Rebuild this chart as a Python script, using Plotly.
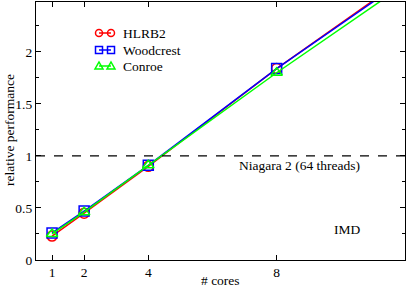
import plotly.graph_objects as go

cores = [1, 2, 4, 8, 16]
hlrb2 = [0.23, 0.45, 0.90, 1.84, 3.58]
woodcrest = [0.26, 0.47, 0.91, 1.84, 3.55]
conroe = [0.25, 0.46, 0.91, 1.80, 3.50]
series_names = ["HLRB2", "Woodcrest", "Conroe"]
niagara = 1.0

FONT = "Liberation Serif, Times New Roman, serif"
FS = 13.5
COLORS = ["#ff0000", "#0000ff", "#00ff00"]
SYMBOLS = ["circle-open", "square-open", "triangle-up-open"]

# plot-area geometry (pixels) for legend placement
L, R, T, B = 36, 405, 2, 260
def px(X):
    return (X - L) / (R - L)
def py(Y):
    return (B - Y) / (B - T)

fig = go.Figure()
for name, ys, col, sym in zip(series_names, [hlrb2, woodcrest, conroe], COLORS, SYMBOLS):
    fig.add_trace(go.Scatter(x=cores, y=ys, name=name, mode="lines+markers", showlegend=False,
                             line=dict(color=col, width=1.5),
                             marker=dict(symbol=sym, size=10, color=col, line=dict(width=1.5, color=col))))

fig.add_hline(y=niagara, line=dict(color="black", width=1.3, dash="dash"))
fig.add_annotation(x=8.7, y=niagara, yshift=-10, text="Niagara 2 (64 threads)", showarrow=False,
                   font=dict(family=FONT, size=FS, color="black"))
fig.add_annotation(x=10.2, y=0.29, text="IMD", showarrow=False,
                   font=dict(family=FONT, size=FS, color="black"))
fig.add_annotation(xref="paper", yref="paper", x=0.5, y=py(280), yanchor="middle",
                   text="# cores", showarrow=False, font=dict(family=FONT, size=FS, color="black"))
fig.add_annotation(xref="paper", yref="paper", x=px(9), y=py(130), xanchor="center", yanchor="middle",
                   textangle=-90, text="relative performance", showarrow=False,
                   font=dict(family=FONT, size=FS, color="black"))

# custom legend (glyph + text)
rows_y = [33, 50, 66]
x0, x1 = 95.5, 114.5
r = 3.5
for name, col, ry, k in zip(series_names, COLORS, rows_y, range(3)):
    fig.add_shape(type="line", xref="paper", yref="paper", x0=px(x0 + r), x1=px(x1 - r), y0=py(ry), y1=py(ry),
                  line=dict(color=col, width=1.5), layer="above")
    for cx in (x0 + r, x1 - r):
        if k == 0:
            fig.add_shape(type="circle", xref="paper", yref="paper", x0=px(cx - r), x1=px(cx + r),
                          y0=py(ry + r), y1=py(ry - r), line=dict(color=col, width=1.5), layer="above")
        elif k == 1:
            fig.add_shape(type="rect", xref="paper", yref="paper", x0=px(cx - r), x1=px(cx + r),
                          y0=py(ry + r), y1=py(ry - r), line=dict(color=col, width=1.5), layer="above")
        else:
            path = "M {:.5f},{:.5f} L {:.5f},{:.5f} L {:.5f},{:.5f} Z".format(
                px(cx - r - 0.5), py(ry + r - 0.5), px(cx + r + 0.5), py(ry + r - 0.5), px(cx), py(ry - r - 0.5))
            fig.add_shape(type="path", xref="paper", yref="paper", path=path,
                          line=dict(color=col, width=1.5), layer="above")
    fig.add_annotation(xref="paper", yref="paper", x=px(121), y=py(ry), xanchor="left", yanchor="middle",
                       text=name, showarrow=False, font=dict(family=FONT, size=FS, color="black"))

axis_common = dict(showgrid=False, zeroline=False, showline=True, linecolor="black", linewidth=1.3,
                   mirror="ticks", ticks="inside", ticklen=5, tickcolor="black", automargin=False,
                   tickfont=dict(family=FONT, size=FS, color="black"))
fig.update_xaxes(range=[0.5, 12], tickvals=[1, 2, 4, 8], ticktext=["1", "2", "4", "8"], **axis_common)
fig.update_yaxes(range=[0, 2.48], tickvals=[0, 0.5, 1, 1.5, 2], ticktext=["0", "0.5", "1", "1.5", "2"],
                 minor=dict(dtick=0.25, ticks="inside", ticklen=3, tickcolor="black"),
                 **axis_common)
fig.update_layout(width=407, height=287, margin=dict(l=L, r=407 - R, t=T, b=287 - B),
                  plot_bgcolor="white", paper_bgcolor="white", showlegend=False,
                  font=dict(family=FONT))
fig.write_html("out.html", config={"displayModeBar": False},
               post_script="document.body.style.margin='0';")
